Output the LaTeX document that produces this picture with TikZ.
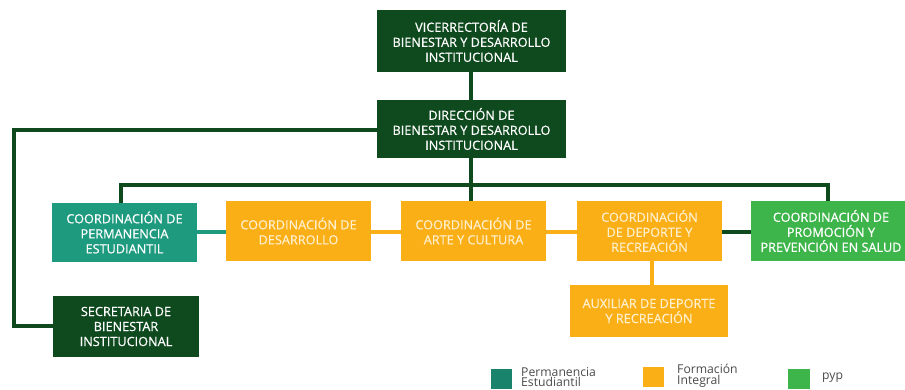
\documentclass[tikz,border=0pt]{standalone}
\usepackage{fontspec}
\setmainfont{Open Sans}
\newfontfamily\boxfont{Open Sans}[FakeBold=0.6]
\definecolor{dgreen}{HTML}{0E4A1E}
\definecolor{orangeb}{HTML}{FBAF17}
\definecolor{tealb}{HTML}{1E9A7F}
\definecolor{greenb}{HTML}{3DB54A}
\definecolor{otext}{HTML}{FFEFCC}
\begin{document}
\begin{tikzpicture}[x=1pt,y=-1pt,
  box/.style={draw=none,inner sep=0pt,align=center,font=\boxfont\fontsize{12.7}{15}\selectfont,text=white},
  dbox/.style={box,fill=dgreen},
  obox/.style={box,fill=orangeb,text=otext},
  tbox/.style={box,fill=tealb},
  gbox/.style={box,fill=greenb},
  dline/.style={draw=dgreen,line width=3.5pt},
  oline/.style={draw=orangeb,line width=3.5pt},
  tline/.style={draw=tealb,line width=3.5pt},
  leg/.style={font=\fontsize{12.2}{10.8}\selectfont,align=left,anchor=west,text=black!70,inner sep=0pt}]
\useasboundingbox (0,0) rectangle (905,390);
\fill[white] (0,0) rectangle (905,390);
% connectors first
\coordinate (busL) at (121,185);
\coordinate (busR) at (828,185);
\coordinate (lt) at (14,130);
\coordinate (lb) at (14,326);
\draw[dline] (471,72) -- (471,100);
\draw[dline] (377,130) -- (lt) -- (lb) -- (53,326);
\draw[dline] (471,158) -- (471,201);
\draw[dline] (121,203) -- (busL) -- (busR) -- (828,201);
\draw[tline] (197,232) -- (226,232);
\draw[oline] (371,232) -- (401,232);
\draw[oline] (546,232) -- (577,232);
\draw[dline] (722,232) -- (751,232);
\draw[oline] (652,261) -- (652,285);
% boxes
\node[dbox,minimum width=189pt,minimum height=62pt] (vice) at (471.5,41) {VICERRECTORÍA DE\\BIENESTAR Y DESARROLLO\\INSTITUCIONAL};
\node[dbox,minimum width=189pt,minimum height=58pt] (dir) at (471.5,129) {DIRECCIÓN DE\\BIENESTAR Y DESARROLLO\\INSTITUCIONAL};
\node[tbox,minimum width=145pt,minimum height=59pt] (perm) at (124.5,232.5) {COORDINACIÓN DE\\PERMANENCIA\\ESTUDIANTIL};
\node[obox,minimum width=145pt,minimum height=60pt] (des) at (298.5,231) {COORDINACIÓN DE\\DESARROLLO};
\node[obox,minimum width=145pt,minimum height=60pt] (arte) at (473.5,231) {COORDINACIÓN DE\\ARTE Y CULTURA};
\node[obox,minimum width=145pt,minimum height=60pt] (dep) at (649.5,231) {COORDINACIÓN\\DE DEPORTE Y\\RECREACIÓN};
\node[gbox,minimum width=160pt,minimum height=60pt] (pro) at (831,231) {COORDINACIÓN DE\\PROMOCIÓN Y\\PREVENCIÓN EN SALUD};
\node[obox,minimum width=158pt,minimum height=52pt] (aux) at (649,311) {AUXILIAR DE DEPORTE\\Y RECREACIÓN};
\node[dbox,minimum width=146pt,minimum height=61pt] (sec) at (126,326.5) {SECRETARIA DE\\BIENESTAR\\INSTITUCIONAL};
% legend
\fill[tealb!85!black] (491,369) rectangle (512,389);
\node[leg] (l1) at (521,377) {Permanencia\\Estudiantil};
\fill[orangeb] (643,367) rectangle (664,387);
\node[leg] (l2) at (677,375.5) {Formación\\Integral};
\fill[greenb] (788,369) rectangle (810,389);
\node[leg] (l3) at (822,378) {pyp};
\end{tikzpicture}
\end{document}
